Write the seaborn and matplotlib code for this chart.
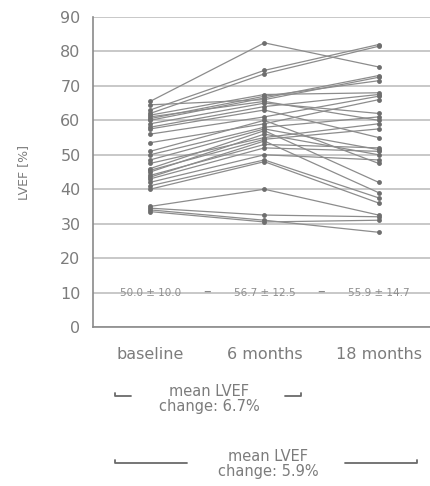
import matplotlib
matplotlib.use("Agg")
import matplotlib.pyplot as plt
import seaborn as sns
import pandas as pd
from matplotlib.lines import Line2D

visits = ["baseline", "6 months", "18 months"]

lvef_baseline = [65.5, 64.5, 63, 62, 61.5, 61, 60.5, 60, 59, 58,
                 57.5, 56, 53.5, 51, 50, 48.5, 47.5, 46, 45.5, 45,
                 44, 43.5, 43, 42, 41, 40, 35, 34.5, 34, 33.5]
lvef_6m = [82.5, 66, 74.5, 73.5, 67.5, 65.5, 67, 66.5, 65, 64,
           63, 61, 59, 60, 58, 57.5, 55, 57, 54.5, 56,
           53, 54, 52, 50, 48.5, 48, 40, 32.5, 31, 30.5]
lvef_18m = [75.5, 72.5, 82, 81.5, 68, 60, 71.5, 73, 62, 67.5,
            55, 67, 66, 47.5, 61, 51.5, 59, 42, 57.5, 50,
            52, 39, 51, 48.5, 37.5, 36, 32.5, 32, 27.5, 31]

mean_labels = ["50.0 ± 10.0", "56.7 ± 12.5", "55.9 ± 14.7"]
change_6m = "mean LVEF\nchange: 6.7%"
change_18m = "mean LVEF\nchange: 5.9%"

rows = []
for i, vals in enumerate(zip(lvef_baseline, lvef_6m, lvef_18m)):
    for v, val in zip(visits, vals):
        rows.append({"patient": i, "visit": v, "lvef": val})
df = pd.DataFrame(rows)

sns.set_style("white")
grey = "#8c8c8c"
txt = "#7c7c7c"

fig = plt.figure(figsize=(4.3, 4.86), dpi=100)
ax = fig.add_axes([93 / 430, 159 / 486, 337 / 430, 310 / 486])

sns.lineplot(data=df, x="visit", y="lvef", units="patient", estimator=None,
             color=grey, linewidth=0.9, marker="o", markersize=3.5,
             markeredgewidth=0, ax=ax, sort=False)
for ln in ax.lines:
    ln.set_markerfacecolor("#6e6e6e")

ax.set_ylim(0, 90)
ax.set_xlim(-0.5, 2.45)
ax.set_yticks(range(0, 91, 10))
ax.set_xticks([0.5, 1.5])
ax.set_xticklabels([])
ax.yaxis.grid(True, color="#c8c8c8", linewidth=1.4)
ax.set_axisbelow(True)
for s in ["top", "right"]:
    ax.spines[s].set_visible(False)
for s in ["left", "bottom"]:
    ax.spines[s].set_color("#8a8a8a")
    ax.spines[s].set_linewidth(1.2)
ax.tick_params(axis="y", direction="inout", length=10, width=1, colors="#8a8a8a",
               labelcolor=txt, labelsize=11.5, pad=4)
ax.tick_params(axis="x", direction="out", length=4, width=1.2, colors="#8a8a8a")
ax.set_xlabel("")
ax.set_ylabel("LVEF [%]", color=txt, fontsize=9, labelpad=22)

for i, (v, lab) in enumerate(zip(visits, mean_labels)):
    ax.text(i, 10, lab, ha="center", va="center", fontsize=7.5, color="#8e8e8e")
    ax.text(i, -8, v, ha="center", va="center", fontsize=11.5, color=txt,
            clip_on=False)
for xm in [0.5, 1.5]:
    ax.text(xm, 10.4, "–", ha="center", va="center", fontsize=11, color="#8a8a8a")

# brackets below the axis
def fx(px):
    return px / 430

def fy(py):
    return 1 - py / 486

br = dict(color="#6a6a6a", linewidth=1.3)
for xs, ys in [([115, 115, 131], [393, 396, 396]),
               ([285, 301, 301], [396, 396, 393]),
               ([115, 115, 187], [460, 463, 463]),
               ([345, 417, 417], [463, 463, 460])]:
    fig.add_artist(Line2D([fx(x) for x in xs], [fy(y) for y in ys], **br))

fig.text(fx(209), fy(399), change_6m, ha="center", va="center", fontsize=10.5,
         color=txt, linespacing=1.05)
fig.text(fx(268), fy(464), change_18m, ha="center", va="center", fontsize=10.5,
         color=txt, linespacing=1.05)

fig.savefig("out.png", dpi=100)
